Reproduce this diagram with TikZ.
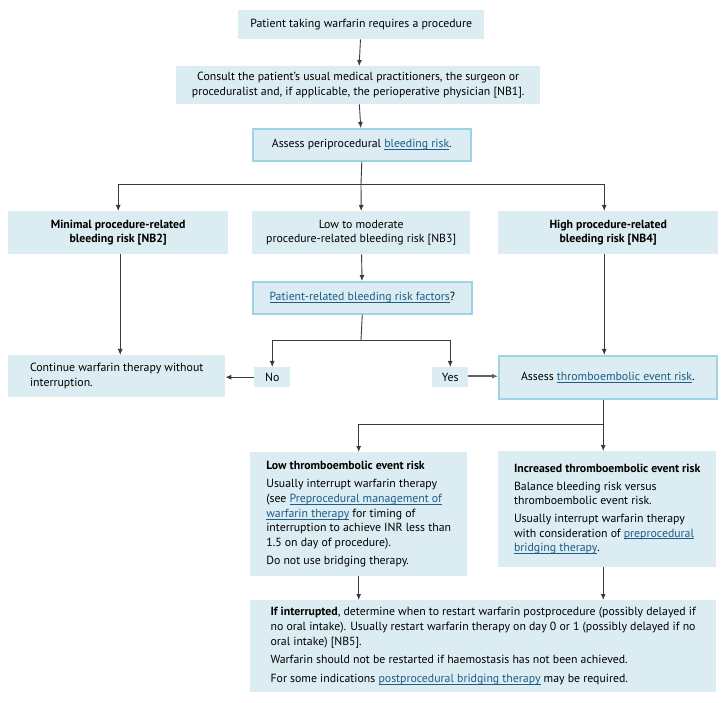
\documentclass[tikz,border=0pt]{standalone}
\usepackage{fontspec}
\setmainfont{PT Sans}
\usetikzlibrary{arrows.meta}
\definecolor{boxfill}{HTML}{DBEDF2}
\definecolor{boxline}{HTML}{9DD3E4}
\definecolor{lnkcol}{HTML}{1D5C85}
\definecolor{arrcol}{HTML}{3A3A3A}
\newcommand{\lk}[1]{{\color{lnkcol}\setbox0\hbox{#1}\rlap{\rule[-2pt]{\wd0}{0.6pt}}\box0}}
\newcommand{\fs}{\fontsize{11.8}{14.6}\selectfont}
\tikzset{
  box/.style={fill=boxfill, draw=none, inner sep=0pt, anchor=north west, align=center, font=\fs, text=black},
  bbox/.style={box, draw=boxline, line width=1.6pt},
  lbox/.style={box, align=left},
  conn/.style={draw=arrcol, line width=0.9pt},
  arrow/.style={conn, -{Latex[length=6pt,width=5pt]}},
  yesarrow/.style={draw=arrcol!80, line width=1.5pt, -{Latex[length=6pt,width=5pt]}}
}
\begin{document}
\begin{tikzpicture}[x=1pt,y=-1pt]
\useasboundingbox (0,0) rectangle (726,703);
\node[box, minimum width=246, minimum height=29] (n1) at (238,10) {Patient taking warfarin requires a procedure};
\node[box, minimum width=364, minimum height=38] (n2) at (176,66) {Consult the patient’s usual medical practitioners, the surgeon or\\proceduralist and, if applicable, the perioperative physician [NB1].};
\node[bbox, minimum width=218, minimum height=32] (n3) at (252,128) {Assess periprocedural \lk{bleeding risk}.};
\node[box, minimum width=220, minimum height=43] (n4) at (8,211) {\textbf{Minimal procedure-related}\\\textbf{bleeding risk [NB2]}};
\node[box, minimum width=218, minimum height=43] (n5) at (252,211) {Low to moderate\\procedure-related bleeding risk [NB3]};
\node[box, minimum width=220, minimum height=43] (n6) at (498,211) {\textbf{High procedure-related}\\\textbf{bleeding risk [NB4]}};
\node[bbox, minimum width=219, minimum height=32] (n7) at (252,281) {\lk{Patient-related bleeding risk factors}?};
\node[box, minimum width=36, minimum height=20] (no) at (254,367) {No};
\node[box, minimum width=36, minimum height=20] (yes) at (432,367) {Yes};
\node[lbox, minimum width=217, minimum height=42] (n10) at (8,355) {Continue warfarin therapy without\\interruption.};
\node[bbox, minimum width=218, minimum height=43] (n11) at (498,355) {Assess \lk{thromboembolic event risk}.};
\node[lbox, minimum width=217, minimum height=124] (n12) at (250,452) {\textbf{Low thromboembolic event risk}\\[4pt]
Usually interrupt warfarin therapy\\
(see \lk{Preprocedural management of}\\
\lk{warfarin therapy} for timing of\\
interruption to achieve INR less than\\
1.5 on day of procedure).\\[4pt]
Do not use bridging therapy.};
\node[lbox, minimum width=218, minimum height=116] (n13) at (498,451) {\textbf{Increased thromboembolic event risk}\\[3pt]
Balance bleeding risk versus\\
thromboembolic event risk.\\[3pt]
Usually interrupt warfarin therapy\\
with consideration of \lk{preprocedural}\\
\lk{bridging therapy}.};
\node[lbox, minimum width=466, minimum height=92] (n14) at (250,600) {\textbf{If interrupted}, determine when to restart warfarin postprocedure (possibly delayed if\\
no oral intake). Usually restart warfarin therapy on day 0 or 1 (possibly delayed if no\\
oral intake) [NB5].\\[4pt]
Warfarin should not be restarted if haemostasis has not been achieved.\\[4pt]
For some indications \lk{postprocedural bridging therapy} may be required.};
% connectors
\coordinate (s1) at (361,184);
\coordinate (s2) at (361,340);
\coordinate (s3) at ([xshift=-4pt]n11.south |- 0,424);
\draw[arrow] (n1) -- (n2);
\draw[arrow] (n2) -- (n3);
\draw[conn] (n3.south) -- (s1);
\draw[arrow] (s1) -| (n4.north);
\draw[arrow] (s1) -- (n5.north);
\draw[arrow] (s1) -| ([xshift=-4pt]n6.north);
\draw[arrow] ([xshift=2pt]n4.south) -- ([xshift=2pt]n4.south |- n10.north);
\draw[arrow] (n5) -- (n7);
\draw[arrow] ([xshift=-4pt]n6.south) -- ([xshift=-4pt]n6.south |- n11.north);
\draw[conn] (n7.south) -- (s2);
\draw[arrow] (s2) -| (no.north);
\draw[arrow] (s2) -| (yes.north);
\draw[arrow] (no.west) -- (no.west -| n10.east);
\draw[yesarrow] ([yshift=1pt]yes.east) -- ([yshift=1pt]yes.east -| n11.west);
\draw[conn] ([xshift=-4pt]n11.south) -- (s3);
\draw[arrow] (s3) -| (n12.north);
\draw[arrow] (s3) -| ([xshift=-4pt]n13.north);
\draw[arrow] (n12.south) -- (n12.south |- n14.north);
\draw[arrow] ([xshift=-4pt]n13.south) -- ([xshift=-4pt]n13.south |- n14.north);
\end{tikzpicture}
\end{document}
